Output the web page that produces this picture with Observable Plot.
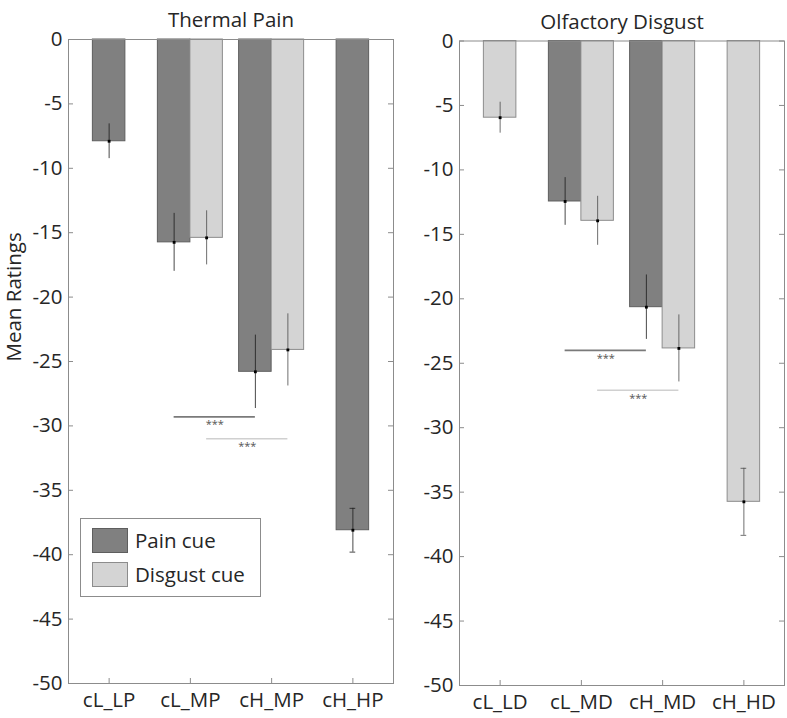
<!DOCTYPE html>
<html>
<head>
<meta charset="utf-8">
<script src="https://cdn.jsdelivr.net/npm/d3@7"></script>
<script src="https://cdn.jsdelivr.net/npm/@observablehq/plot@0.6"></script>
<style>
  html, body { margin: 0; padding: 0; background: #fff; }
  #wrap { position: relative; width: 787px; height: 718px; font-family: "Open Sans", sans-serif; color: #262626; }
  .panel { position: absolute; top: 0; }
  #legend { position: absolute; left: 80px; top: 518px; width: 181px; height: 79px; border: 1px solid #8c8c8c; background: #fff; box-sizing: border-box; }
  .lg-row { position: absolute; left: 11px; display: flex; align-items: center; font-size: 20.5px; line-height: 25px; height: 25px; }
  .lg-sw { width: 36px; height: 25px; box-sizing: border-box; margin-right: 7px; }
</style>
</head>
<body>
<div id="wrap">
  <div id="left" class="panel" style="left:0px"></div>
  <div id="right" class="panel" style="left:395px"></div>
  <div id="legend"></div>
</div>
<script>
// ---------- data ----------
const seriesNames = ["Pain cue", "Disgust cue"];
const yTicks = [0, -5, -10, -15, -20, -25, -30, -35, -40, -45, -50];

const thermalTitle = "Thermal Pain";
const thermalCategories = ["cL_LP", "cL_MP", "cH_MP", "cH_HP"];
const thermalPainMean = [-7.9, -15.75, -25.8, -38.1];
const thermalPainErr = [1.35, 2.25, 2.85, 1.7];
const thermalDisgustMean = [null, -15.4, -24.1, null];
const thermalDisgustErr = [null, 2.1, 2.8, null];
const thermalSig = [
  {series: "Pain cue", from: 1, to: 2, y: -29.3, label: "***"},
  {series: "Disgust cue", from: 1, to: 2, y: -31.0, label: "***"}
];

const olfTitle = "Olfactory Disgust";
const olfCategories = ["cL_LD", "cL_MD", "cH_MD", "cH_HD"];
const olfPainMean = [null, -12.45, -20.65, null];
const olfPainErr = [null, 1.85, 2.5, null];
const olfDisgustMean = [-5.95, -13.95, -23.85, -35.75];
const olfDisgustErr = [1.2, 1.9, 2.6, 2.6];
const olfSig = [
  {series: "Pain cue", from: 1, to: 2, y: -24.0, label: "***"},
  {series: "Disgust cue", from: 1, to: 2, y: -27.1, label: "***"}
];

// ---------- styles ----------
const fills = {"Pain cue": "#808080", "Disgust cue": "#d4d4d4"};
const strokes = {"Pain cue": "#5e5e5e", "Disgust cue": "#8c8c8c"};
const errColor = {"Pain cue": "#1a1a1a", "Disgust cue": "#4a4a4a"};
const sigColor = {"Pain cue": "#7a7a7a", "Disgust cue": "#d0d0d0"};
const axisGrey = "#8c8c8c";
const barHalf = 0.2;
const capHalf = 0.035;
const cappedCategoryIndex = 3;
const FS = 20.5;

function buildRows(cats, pm, pe, dm, de) {
  const rows = [];
  cats.forEach((c, i) => {
    const both = pm[i] != null && dm[i] != null;
    if (pm[i] != null) rows.push({cat: c, i, series: "Pain cue", v: pm[i], e: pe[i], xc: i + 1 - (both ? barHalf : 0)});
    if (dm[i] != null) rows.push({cat: c, i, series: "Disgust cue", v: dm[i], e: de[i], xc: i + 1 + (both ? barHalf : 0)});
  });
  return rows;
}

function makePanel({title, cats, rows, sig, width, marginLeft, marginRight, marginTop, marginBottom, yLabel}) {
  const height = 718;
  const fw = width - marginLeft - marginRight;
  const fh = height - marginTop - marginBottom;
  const centerOf = (series, i) => rows.find(r => r.series === series && r.i === i).xc;
  const sigRows = sig.map(s => ({...s, x1: centerOf(s.series, s.from), x2: centerOf(s.series, s.to)}));
  const marks = [];
  for (const s of seriesNames) {
    const d = rows.filter(r => r.series === s);
    marks.push(Plot.rectY(d, {x1: r => r.xc - barHalf, x2: r => r.xc + barHalf, y1: 0, y2: "v", fill: fills[s], stroke: strokes[s], strokeWidth: 1}));
  }
  for (const s of seriesNames) {
    const d = rows.filter(r => r.series === s);
    marks.push(Plot.ruleX(d, {x: "xc", y1: r => r.v + r.e, y2: r => r.v - r.e, stroke: errColor[s], strokeWidth: 0.8}));
    const capped = d.filter(r => r.i === cappedCategoryIndex);
    marks.push(Plot.ruleY(capped, {x1: r => r.xc - capHalf, x2: r => r.xc + capHalf, y: r => r.v + r.e, stroke: errColor[s], strokeWidth: 0.8}));
    marks.push(Plot.ruleY(capped, {x1: r => r.xc - capHalf, x2: r => r.xc + capHalf, y: r => r.v - r.e, stroke: errColor[s], strokeWidth: 0.8}));
    marks.push(Plot.dot(d, {x: "xc", y: "v", symbol: "square", r: 1.6, fill: "#000", stroke: null}));
  }
  for (const s of seriesNames) {
    const d = sigRows.filter(r => r.series === s);
    marks.push(Plot.ruleY(d, {x1: "x1", x2: "x2", y: "y", stroke: sigColor[s], strokeWidth: 1.6}));
    marks.push(Plot.text(d, {x: r => (r.x1 + r.x2) / 2, y: "y", text: "label", dy: 8, fontSize: 11, fill: "#555"}));
  }
  // inward ticks
  marks.push(Plot.tickY(yTicks, {y: d => d, insetRight: fw - 5, stroke: axisGrey}));
  marks.push(Plot.tickY(yTicks, {y: d => d, insetLeft: fw - 5, stroke: axisGrey}));
  marks.push(Plot.tickX(d3.range(1, cats.length + 1), {x: d => d, insetTop: fh - 5, stroke: axisGrey}));
  marks.push(Plot.frame({stroke: axisGrey, strokeWidth: 1}));
  marks.push(Plot.axisY({ticks: yTicks, tickFormat: d => String(d), tickSize: 0, tickPadding: 6, label: null, fontSize: FS}));
  marks.push(Plot.axisX({ticks: d3.range(1, cats.length + 1), tickFormat: d => cats[d - 1], tickSize: 0, tickPadding: 9, label: null, fontSize: FS}));
  marks.push(Plot.text([title], {frameAnchor: "top", dy: -27, fontSize: FS, fill: "#262626"}));
  if (yLabel) marks.push(Plot.text([yLabel], {frameAnchor: "left", rotate: -90, dx: -54, fontSize: FS, fill: "#262626"}));
  return Plot.plot({
    width, height, marginLeft, marginRight, marginTop, marginBottom,
    style: {fontFamily: "Open Sans, sans-serif", fontSize: FS + "px", color: "#262626", background: "transparent", overflow: "visible"},
    x: {type: "linear", domain: [0.5, cats.length + 0.5]},
    y: {domain: [-50, 0]},
    marks
  });
}

const thermalRows = buildRows(thermalCategories, thermalPainMean, thermalPainErr, thermalDisgustMean, thermalDisgustErr);
const olfRows = buildRows(olfCategories, olfPainMean, olfPainErr, olfDisgustMean, olfDisgustErr);

document.getElementById("left").append(makePanel({
  title: thermalTitle, cats: thermalCategories, rows: thermalRows, sig: thermalSig,
  width: 395, marginLeft: 68, marginRight: 2, marginTop: 39, marginBottom: 35, yLabel: "Mean Ratings"
}));
document.getElementById("right").append(makePanel({
  title: olfTitle, cats: olfCategories, rows: olfRows, sig: olfSig,
  width: 392, marginLeft: 64, marginRight: 3, marginTop: 40.5, marginBottom: 33
}));

// legend
const legend = document.getElementById("legend");
seriesNames.forEach((s, k) => {
  const row = document.createElement("div");
  row.className = "lg-row";
  row.style.top = (9 + k * 34) + "px";
  const sw = document.createElement("div");
  sw.className = "lg-sw";
  sw.style.background = fills[s];
  sw.style.border = "1px solid " + strokes[s];
  const t = document.createElement("span");
  t.textContent = s;
  row.append(sw, t);
  legend.append(row);
});
</script>
</body>
</html>
